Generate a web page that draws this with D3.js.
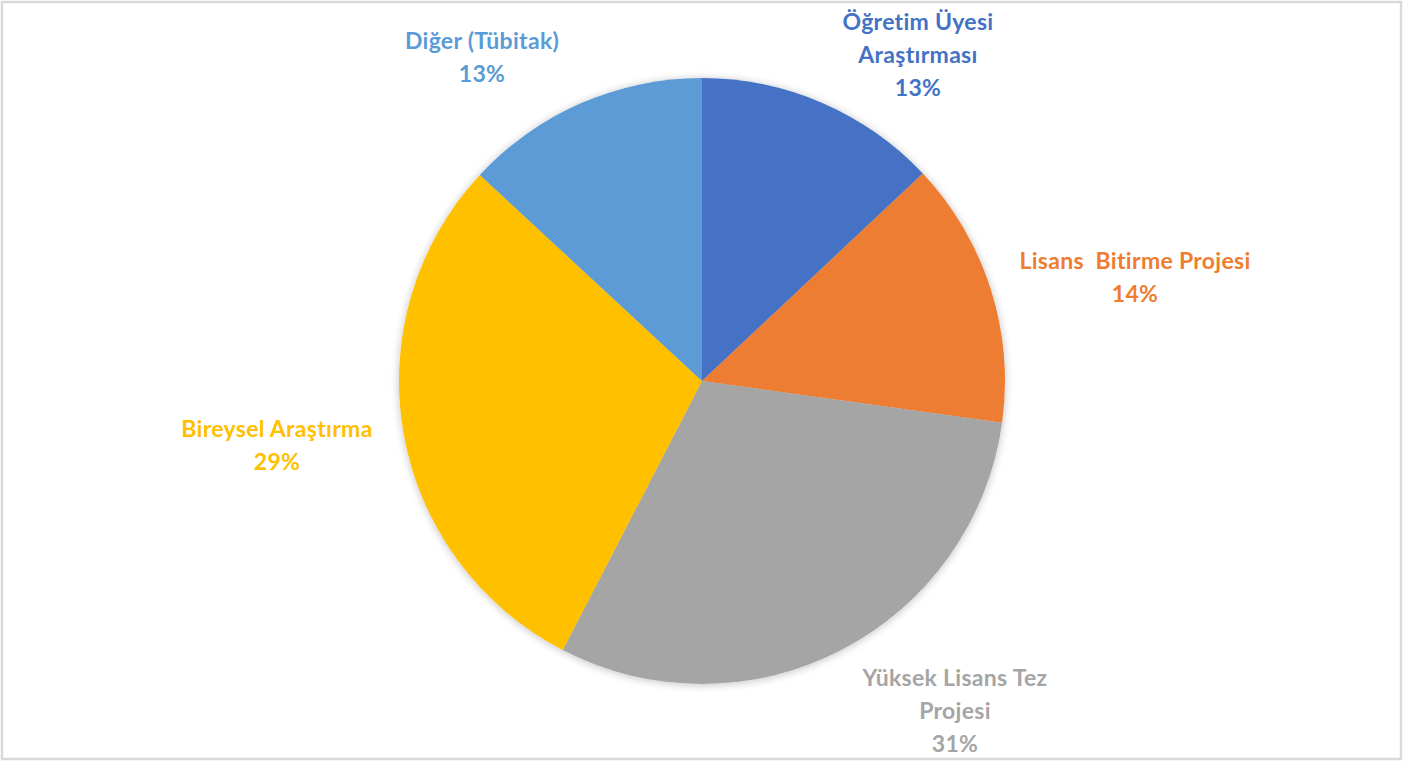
<!DOCTYPE html>
<html>
<head>
<meta charset="utf-8">
<script src="https://cdn.jsdelivr.net/npm/d3@7"></script>
<style>
    html, body { margin: 0; padding: 0; background: #ffffff; }
    svg text { font-family: Lato, "Open Sans", "DejaVu Sans", sans-serif; font-weight: bold; }
</style>
</head>
<body>
<svg id="chart" width="1420" height="761"></svg>
<script>
// Data (clockwise from 12 o'clock)
var categories = [
    ["Öğretim Üyesi", "Araştırması"],
    ["Lisans  Bitirme Projesi"],
    ["Yüksek Lisans Tez", "Projesi"],
    ["Bireysel Araştırma"],
    ["Diğer (Tübitak)"]
];
var values = [13.0, 14.2, 30.4, 29.3, 13.1];
var percentLabels = ["13%", "14%", "31%", "29%", "13%"];
var colors = ["#4472C4", "#ED7D31", "#A5A5A5", "#FFC000", "#5B9BD5"];

// layout
var _cx = 702;
var _cy = 381;
var _radius = 303;
var _lineHeight = 33;
// label anchors as offsets from the pie centre (centre of the text block)
var _labelSpots = [
    [216, -326],
    [433, -104],
    [253, 330],
    [-425, 64],
    [-220, -324]
];

var svg = d3.select("#chart");

// chart frame
svg.append("rect")
    .attr("x", 2)
    .attr("y", 2)
    .attr("width", 1399)
    .attr("height", 757)
    .attr("fill", "#ffffff")
    .attr("stroke", "#d9d9d9")
    .attr("stroke-width", 2.5);

var defs = svg.append("defs");
var shadow = defs.append("filter")
    .attr("id", "soft-shadow")
    .attr("x", "-10%").attr("y", "-10%")
    .attr("width", "120%").attr("height", "120%");
shadow.append("feGaussianBlur")
    .attr("in", "SourceAlpha")
    .attr("stdDeviation", 4);
shadow.append("feOffset").attr("dx", 0).attr("dy", 1).attr("result", "blur");
shadow.append("feComponentTransfer").append("feFuncA").attr("type", "linear").attr("slope", 0.25);
var merge = shadow.append("feMerge");
merge.append("feMergeNode");
merge.append("feMergeNode").attr("in", "SourceGraphic");

var pie = d3.pie().sort(null).value(function(d) { return d; });
var arc = d3.arc().innerRadius(0).outerRadius(_radius);

var gPie = svg.append("g")
    .attr("transform", "translate(" + _cx + "," + _cy + ")")
    .attr("filter", "url(#soft-shadow)");

gPie.selectAll("path.slice")
    .data(pie(values))
    .enter()
    .append("path")
        .classed("slice", true)
        .attr("d", arc)
        .attr("fill", function(d, i) { return colors[i]; });

// data labels
var gLabels = svg.append("g")
    .attr("transform", "translate(" + _cx + "," + _cy + ")");

gLabels.selectAll("text.label")
    .data(pie(values))
    .enter()
    .append("text")
        .classed("label", true)
        .attr("text-anchor", "middle")
        .attr("font-size", 23)
        .attr("letter-spacing", 0.3)
        .attr("fill", function(d, i) { return colors[i]; })
        .each(function(d, i) {
            var lines = categories[i].concat([percentLabels[i]]);
            var spot = _labelSpots[i];
            var top = spot[1] - (lines.length - 1) * _lineHeight / 2;
            var t = d3.select(this);
            lines.forEach(function(line, k) {
                t.append("tspan")
                    .attr("x", spot[0])
                    .attr("y", top + k * _lineHeight)
                    .attr("dy", ".35em")
                    .style("white-space", "pre")
                    .text(line);
            });
        });
</script>
</body>
</html>
